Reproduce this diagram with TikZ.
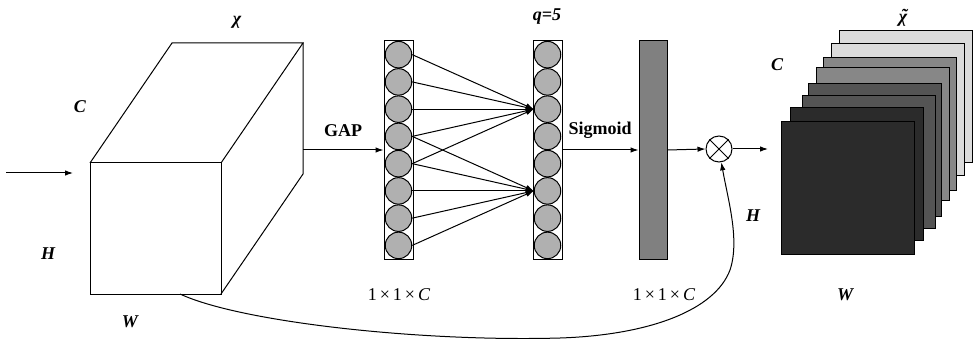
\documentclass[tikz,border=0pt]{standalone}
\usepackage{fontspec}
\setmainfont{Liberation Serif}
\usetikzlibrary{arrows.meta,positioning,calc}

\tikzset{
  neuron/.style={circle,draw,fill=gray!62,minimum size=26.5pt,inner sep=0pt},
  column/.style={draw,minimum width=29pt,minimum height=218pt,inner sep=0pt},
  var/.style={font=\fontsize{18}{20}\selectfont\bfseries\itshape},
  lbl/.style={font=\fontsize{18}{20}\selectfont\bfseries},
  dims/.style={font=\fontsize{18}{20}\selectfont},
  >={Latex[length=8pt,width=5.5pt]}
}

\begin{document}
\begin{tikzpicture}[x=1pt,y=-1pt,line width=1pt]
\useasboundingbox (0,0) rectangle (976,339);

\draw (90,163) rectangle (221,294);
\draw (90,163) -- (172,43) -- (303,43) -- (221,163);
\draw (303,43) -- (303,174) -- (221,294);
\coordinate (src) at (6,173);
\coordinate (srcend) at (73,173);
\coordinate (back) at (303,150);
\coordinate (skip) at (180,294);
\draw[->] (src) -- (srcend);
\draw (237,22) node[var] {χ};
\draw (80,107) node[var] {C};
\draw (48,254) node[var] {H};
\draw (130,322) node[var] {W};

\node[column] (col1) at (398.5,150) {};
\node[column] (col2) at (547.5,150) {};
\foreach \i in {1,...,8} {
  \node[neuron] (a\i) at (398.5,{27.25*\i+27.4}) {};
  \node[neuron] (b\i) at (547.5,{27.25*\i+27.4}) {};
}
\foreach \i in {1,...,5} \draw[->] (a\i.east) -- (b3.west);
\foreach \i in {4,...,8} \draw[->] (a\i.east) -- (b6.west);
\draw[->] (back) -- (col1.west);
\draw (343,131) node[lbl] {GAP};
\draw (547,17) node[var] {q=5};
\draw (399,295) node[dims] {1\,×\,1\,×\,\textit{C}};

\node[draw,fill=black!50,minimum width=28pt,minimum height=218pt,inner sep=0pt] (bar) at (653,150) {};
\draw[->] (col2.east) -- (bar.west);
\draw (600,130) node[lbl] {Sigmoid};
\draw (664,295) node[dims] {1\,×\,1\,×\,\textit{C}};

\node[circle,draw,minimum size=26pt,inner sep=0pt] (mul) at (719,149) {};
\draw (mul.north west) -- (mul.south east);
\draw (mul.north east) -- (mul.south west);
\draw[->] (bar.east) -- (mul.west);
\coordinate (out) at (768,149);
\draw[->] (mul.east) -- (out);

\foreach \x/\y/\c in {839/31/black!14, 831/44/black!14, 823/58/black!47, 816/68/black!47,
                      808/84/black!67, 802/96/black!67, 790/108/black!83, 781/122/black!83}
  \filldraw[fill=\c] (\x,\y) rectangle ++(133,132);
\node[var,inner sep=0pt] (chiout) at (903,18)
  {\ooalign{χ\cr\hidewidth\kern2pt\raisebox{1pt}{˜}\hidewidth\cr}};
\draw (777,65) node[var] {C};
\draw (753,216) node[var] {H};
\draw (845,295) node[var] {W};

\draw[->] (skip) .. controls (240,322) and (420,342) .. (560,338)
          .. controls (650,335) and (715,310) .. (730,270)
          .. controls (740,240) and (728,200) .. (mul.-80);
\end{tikzpicture}
\end{document}
